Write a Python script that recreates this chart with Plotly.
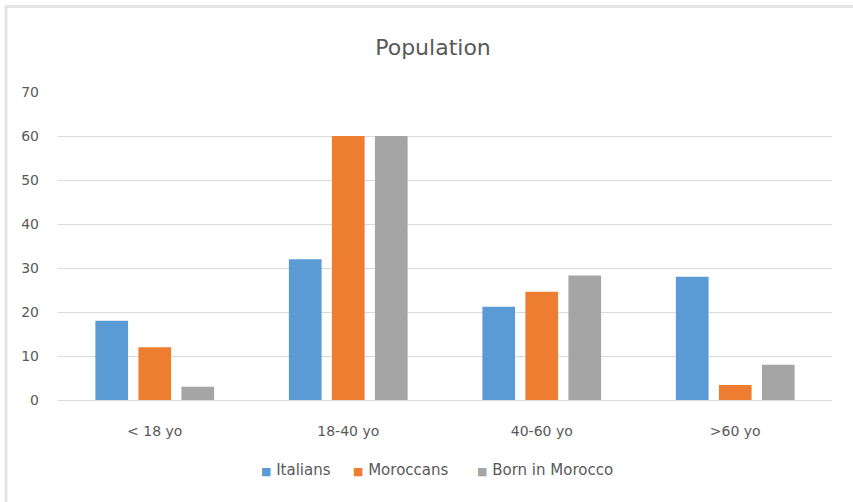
import plotly.graph_objects as go

# Age groups and population share per group
categories = ["< 18 yo", "18-40 yo", "40-60 yo", ">60 yo"]
italians = [18, 32, 21.2, 28]
moroccans = [12, 60, 24.6, 3.4]
born_in_morocco = [3, 60, 28.3, 8]

series_names = ["Italians", "Moroccans", "Born in Morocco"]
series_colors = ["#5B9BD5", "#ED7D31", "#A5A5A5"]
y_ticks = [0, 10, 20, 30, 40, 50, 60, 70]

W, H = 853, 502
L, R, T, B = 58, 21, 92, 102
plot_w = W - L - R
plot_h = H - T - B
FONT = "'DejaVu Sans', sans-serif"
TEXT = "#595959"

fig = go.Figure()
for name, vals, col in zip(series_names, [italians, moroccans, born_in_morocco], series_colors):
    fig.add_trace(go.Bar(x=categories, y=vals, name=name, marker=dict(color=col, line=dict(width=0))))

def px_x(p):
    return (p - L) / plot_w

def px_y(p):
    return (H - B - p) / plot_h

# Chart area frame
fig.add_shape(type="rect", xref="paper", yref="paper",
              x0=px_x(6), x1=px_x(870), y0=px_y(520), y1=px_y(6.5),
              line=dict(color="#e4e4e4", width=3), fillcolor="rgba(0,0,0,0)", layer="below")

# Compact legend row under the axis: small colored square + series name
legend_left = [259, 351, 475]
for name, col, x0 in zip(series_names, series_colors, legend_left):
    fig.add_annotation(xref="paper", yref="paper", x=px_x(x0), y=px_y(470),
                       xanchor="left", yanchor="middle", showarrow=False,
                       text=f'<span style="color:{col};font-size:11px">■</span> {name}',
                       font=dict(size=15, color=TEXT, family=FONT))

fig.update_layout(
    width=W, height=H,
    margin=dict(l=L, r=R, t=T, b=B),
    paper_bgcolor="white", plot_bgcolor="white",
    barmode="group", bargap=0.333, bargroupgap=0.24,
    font=dict(family=FONT, color=TEXT, size=14),
    title=dict(text="Population", x=px_x(433), xref="paper", xanchor="center",
               y=1 - 47 / H, yanchor="middle",
               font=dict(size=22, color=TEXT, family=FONT)),
    xaxis=dict(showgrid=False, showline=True, linecolor="#d9d9d9", linewidth=1,
               ticks="", ticklabelstandoff=18, tickfont=dict(size=14, color=TEXT)),
    yaxis=dict(range=[0, 70], tickvals=y_ticks, showgrid=True, gridcolor="#d9d9d9", gridwidth=1,
               zeroline=False, showline=False, ticks="", ticklabelstandoff=18,
               tickfont=dict(size=14, color=TEXT)),
    showlegend=False,
)

fig.write_html("out.html")
